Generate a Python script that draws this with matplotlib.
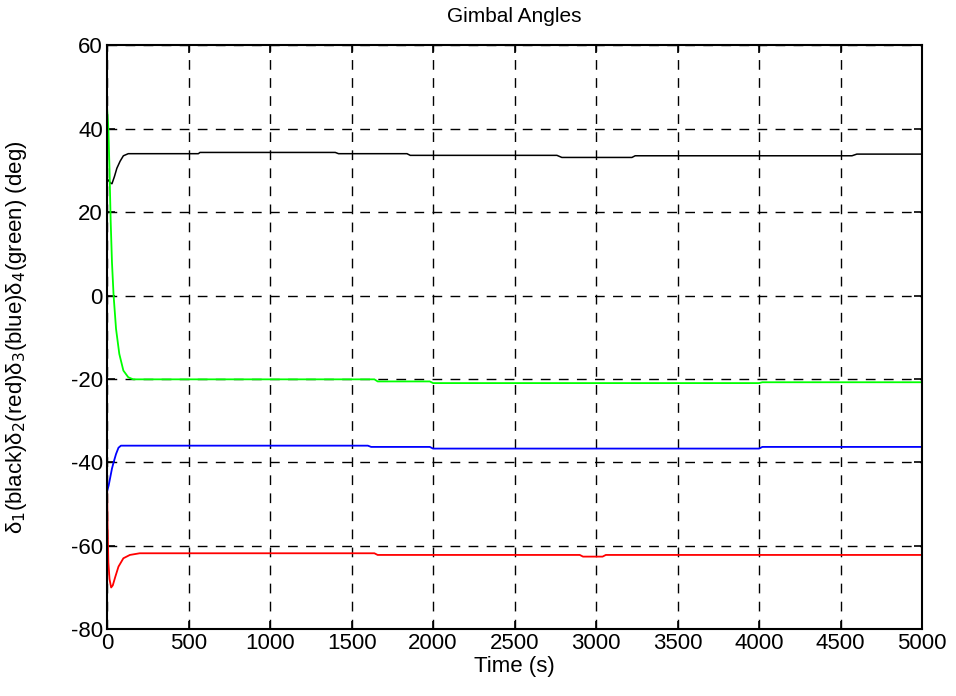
import matplotlib
matplotlib.use("Agg")
import matplotlib.pyplot as plt

plt.rcParams["font.family"] = ["Liberation Sans", "DejaVu Sans"]
plt.rcParams["font.size"] = 13
plt.rcParams["axes.unicode_minus"] = False

# gimbal angle histories (time in s, angle in deg)
t_black = [0, 10, 20, 30, 45, 60, 80, 100, 130, 560, 570, 1400, 1420, 1840, 1860,
           2760, 2790, 3220, 3240, 4570, 4600, 5000]
d_black = [28.0, 27.5, 27.0, 26.8, 28.5, 30.5, 32.2, 33.5, 34.0, 34.0, 34.3, 34.3, 34.0, 34.0,
           33.6, 33.6, 33.1, 33.1, 33.5, 33.5, 33.9, 33.9]

t_red = [0, 3, 8, 15, 25, 35, 50, 70, 100, 140, 200, 1640, 1660, 2900, 2920, 3040, 3060, 5000]
d_red = [-45.0, -55.0, -64.0, -68.0, -70.0, -69.5, -67.5, -65.0, -63.0, -62.2, -61.8, -61.8,
         -62.2, -62.2, -62.6, -62.6, -62.2, -62.2]

t_blue = [0, 10, 20, 30, 40, 55, 70, 85, 1600, 1620, 1980, 2000, 4000, 4020, 5000]
d_blue = [-47.0, -45.5, -43.5, -41.5, -40.0, -38.0, -36.5, -36.0, -36.0, -36.3, -36.3,
          -36.7, -36.7, -36.3, -36.3]

t_green = [0, 8, 15, 22, 30, 40, 55, 75, 100, 130, 160, 1640, 1660, 1980, 2000, 4000, 4020, 5000]
d_green = [45.0, 40.0, 30.0, 18.0, 8.0, 0.0, -8.0, -14.0, -18.0, -19.6, -20.1, -20.1,
           -20.6, -20.6, -21.0, -21.0, -20.8, -20.8]

x_ticks = list(range(0, 5001, 500))
y_ticks = list(range(-80, 61, 20))

fig = plt.figure(figsize=(9.56, 6.96), dpi=100)
ax = fig.add_axes([0.112, 0.096, 0.8525, 0.839])

ax.plot(t_black, d_black, color="black", lw=1.1)
ax.plot(t_red, d_red, color="red", lw=1.3)
ax.plot(t_blue, d_blue, color="blue", lw=1.3)
ax.plot(t_green, d_green, color="#00ff00", lw=1.3)

ax.set_xlim(0, 5000)
ax.set_ylim(-80, 60)
ax.set_xticks(x_ticks)
ax.set_yticks(y_ticks)
ax.tick_params(direction="in", top=True, right=True, length=6, width=1.2, labelsize=16, pad=3)
ax.grid(True, color="black", linestyle=(0, (7, 6)), linewidth=1.0)
for sp in ax.spines.values():
    sp.set_linewidth(1.5)

ax.set_title("Gimbal Angles", fontsize=15, pad=17)
ax.set_xlabel("Time (s)", fontsize=16, labelpad=1)
ax.set_ylabel(r"δ$_1$(black)δ$_2$(red)δ$_3$(blue)δ$_4$(green) (deg)", fontsize=16, labelpad=30)

fig.savefig("out.png", dpi=100)
